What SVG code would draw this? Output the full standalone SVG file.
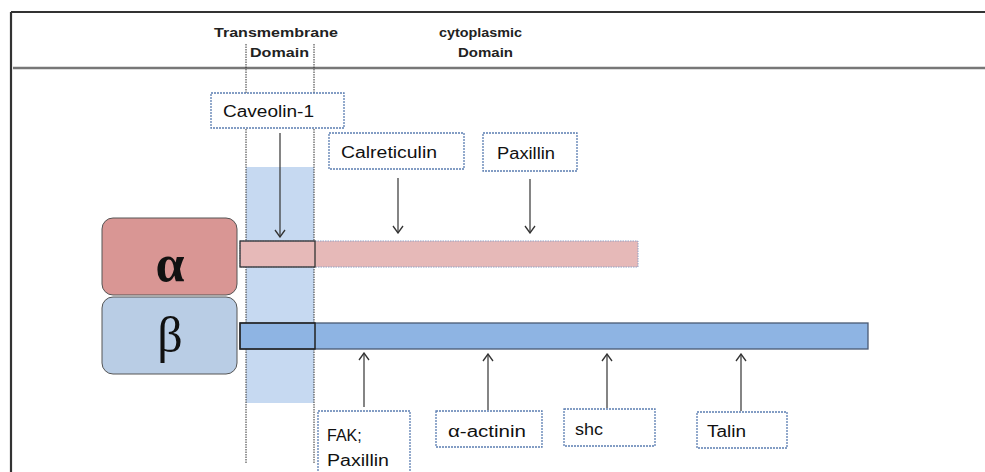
<svg xmlns="http://www.w3.org/2000/svg" width="985" height="472" viewBox="0 0 985 472">
<style>
.hdr{font-family:"Liberation Sans",Arial,sans-serif;font-weight:bold;font-size:12px;fill:#222}
.lbl{font-family:"Liberation Sans",Arial,sans-serif;font-size:16px;fill:#111}
.box{fill:#fff;stroke:#5b7db1;stroke-width:1.3;stroke-dasharray:2 1}
.arr{stroke:#333;stroke-width:1.2;fill:none;marker-end:url(#ah)}
.guide{stroke:#333;stroke-width:1;stroke-dasharray:1.5 1}
</style>
<defs>
<marker id="ah" viewBox="0 0 12 12" refX="11" refY="6" markerWidth="12" markerHeight="12" markerUnits="userSpaceOnUse" orient="auto">
<polyline points="4,1 11,6 4,11" fill="none" stroke="#333" stroke-width="1.3"/>
</marker>
</defs>
<rect width="985" height="472" fill="#fff"/>
<g id="frame">
<line x1="11" y1="12" x2="985" y2="12" stroke="#333" stroke-width="2.2"/>
<line x1="11" y1="12" x2="11" y2="472" stroke="#333" stroke-width="2.2"/>
<line x1="13" y1="68" x2="985" y2="68" stroke="#777" stroke-width="2.5"/>
</g>
<g id="headers">
<text class="hdr" x="214" y="37" textLength="124" lengthAdjust="spacingAndGlyphs">Transmembrane</text>
<text class="hdr" x="250" y="57" textLength="59" lengthAdjust="spacingAndGlyphs">Domain</text>
<text class="hdr" x="439" y="37" textLength="83" lengthAdjust="spacingAndGlyphs">cytoplasmic</text>
<text class="hdr" x="458" y="57" textLength="55" lengthAdjust="spacingAndGlyphs">Domain</text>
</g>
<g id="transmembrane">
<rect x="246" y="167" width="68" height="236" fill="#c6d9f1"/>
<line class="guide" x1="246" y1="44" x2="246" y2="463"/>
<line class="guide" x1="314" y1="44" x2="314" y2="463"/>
</g>
<g id="alpha">
<rect x="102" y="218" width="135" height="77" rx="11" fill="#d99694" stroke="#555" stroke-width="1"/>
<text x="170" y="281" text-anchor="middle" font-family="Liberation Serif,serif" font-weight="bold" font-size="52" fill="#111">α</text>
</g>
<g id="beta">
<rect x="102" y="297" width="135" height="77" rx="11" fill="#b9cde5" stroke="#555" stroke-width="1"/>
<text x="170" y="352" text-anchor="middle" font-family="Liberation Serif,serif" font-size="50" fill="#111">β</text>
</g>
<g id="alpha-bar">
<rect x="240" y="241" width="398" height="26" fill="#e6b9b8" stroke="#8ea0c4" stroke-width="1" stroke-dasharray="1.5 1"/>
<rect x="240" y="241" width="75" height="26" fill="none" stroke="#333" stroke-width="1.3"/>
</g>
<g id="beta-bar">
<rect x="240" y="323" width="628" height="26" fill="#8eb4e3" stroke="#4a5a73" stroke-width="1.3"/>
<rect x="240" y="323" width="75" height="26" fill="none" stroke="#222" stroke-width="1.5"/>
</g>
<g id="caveolin">
<rect class="box" x="211" y="93" width="133" height="35"/>
<text class="lbl" x="223" y="117" textLength="91" lengthAdjust="spacingAndGlyphs">Caveolin-1</text>
</g>
<g id="calreticulin">
<rect class="box" x="329" y="133" width="135" height="36"/>
<text class="lbl" x="341" y="158" textLength="96" lengthAdjust="spacingAndGlyphs">Calreticulin</text>
</g>
<g id="paxillin">
<rect class="box" x="483" y="133" width="94" height="38"/>
<text class="lbl" x="497" y="159" textLength="58" lengthAdjust="spacingAndGlyphs">Paxillin</text>
</g>
<g id="fak-paxillin">
<rect class="box" x="318" y="411" width="92" height="70"/>
<text class="lbl" x="327" y="441">FAK;</text>
<text class="lbl" x="327" y="466" textLength="62" lengthAdjust="spacingAndGlyphs">Paxillin</text>
</g>
<g id="alpha-actinin">
<rect class="box" x="436" y="411" width="106" height="36"/>
<text class="lbl" x="448" y="437" textLength="78" lengthAdjust="spacingAndGlyphs">α-actinin</text>
</g>
<g id="shc">
<rect class="box" x="564" y="409" width="91" height="37"/>
<text class="lbl" x="575" y="435" textLength="28" lengthAdjust="spacingAndGlyphs">shc</text>
</g>
<g id="talin">
<rect class="box" x="697" y="412" width="90" height="36"/>
<text class="lbl" x="707" y="437" textLength="39" lengthAdjust="spacingAndGlyphs">Talin</text>
</g>
<g id="connectors">
<line class="arr" x1="280" y1="133" x2="280" y2="237"/>
<line class="arr" x1="398" y1="178" x2="398" y2="233"/>
<line class="arr" x1="530" y1="179" x2="530" y2="233"/>
<line class="arr" x1="364" y1="407" x2="364" y2="353"/>
<line class="arr" x1="488" y1="410" x2="488" y2="354"/>
<line class="arr" x1="607" y1="408" x2="607" y2="354"/>
<line class="arr" x1="741" y1="411" x2="741" y2="354"/>
</g>
</svg>
